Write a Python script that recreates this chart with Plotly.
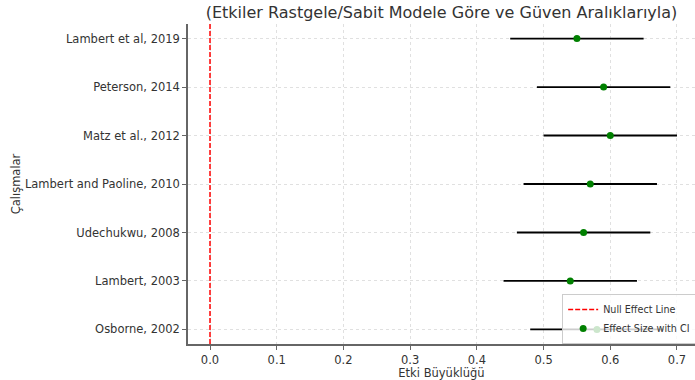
import plotly.graph_objects as go

studies = ["Lambert et al, 2019", "Peterson, 2014", "Matz et al., 2012",
           "Lambert and Paoline, 2010", "Udechukwu, 2008", "Lambert, 2003", "Osborne, 2002"]
effect = [0.55, 0.59, 0.60, 0.57, 0.56, 0.54, 0.58]
ci_low = [0.45, 0.49, 0.50, 0.47, 0.46, 0.44, 0.48]
ci_high = [0.65, 0.69, 0.70, 0.67, 0.66, 0.64, 0.68]
x_ticks = [0.0, 0.1, 0.2, 0.3, 0.4, 0.5, 0.6, 0.7]

# y positions: first study at top
ypos = list(range(len(studies) - 1, -1, -1))
err_plus = [h - e for h, e in zip(ci_high, effect)]
err_minus = [e - l for e, l in zip(effect, ci_low)]

fig = go.Figure()
fig.add_trace(go.Scatter(
    x=[0, 0], y=[-0.3, 6.3], mode="lines",
    line=dict(color="red", dash="5px,2px", width=1.5),
    name="Null Effect Line"))
fig.add_trace(go.Scatter(
    x=effect, y=ypos, mode="markers",
    marker=dict(color="green", size=7),
    error_x=dict(type="data", symmetric=False, array=err_plus, arrayminus=err_minus,
                 color="black", thickness=1.8, width=0),
    name="Effect Size with CI"))

fig.update_layout(
    width=695, height=380,
    margin=dict(l=188, r=0, t=24, b=36, autoexpand=False),
    paper_bgcolor="white", plot_bgcolor="white",
    font=dict(family="DejaVu Sans", size=11.5, color="#333333"),
    title=dict(text="(Etkiler Rastgele/Sabit Modele Göre ve Güven Aralıklarıyla)",
               x=0.5, xref="paper", xanchor="center", y=0.967, yanchor="middle",
               font=dict(size=16, color="#333333")),
    showlegend=True,
    legend=dict(x=0.738, y=0.0, xanchor="left", yanchor="bottom",
                bgcolor="rgba(255,255,255,0.8)", bordercolor="#cccccc", borderwidth=1,
                font=dict(size=9.6, color="#333333"), tracegroupgap=0,
                itemwidth=30),
)
fig.update_xaxes(
    range=[-0.033, 0.727], tickvals=x_ticks, ticktext=[f"{v:.1f}" for v in x_ticks],
    showgrid=True, gridcolor="#e0e0e0", griddash="dot", gridwidth=1,
    showline=True, linecolor="#666666", linewidth=1.5,
    ticks="outside", ticklen=4, tickcolor="#666666",
    zeroline=False, automargin=False,
    title=dict(text="Etki Büyüklüğü", font=dict(size=11.5), standoff=2))
fig.update_yaxes(
    range=[-0.3, 6.3], tickvals=ypos, ticktext=studies,
    showgrid=True, gridcolor="#e0e0e0", griddash="dot", gridwidth=1,
    showline=True, linecolor="#666666", linewidth=1.5,
    ticks="outside", ticklen=4, tickcolor="#666666",
    zeroline=False, automargin=False,
    title=dict(text="Çalışmalar", font=dict(size=11.5), standoff=2))

fig.write_html("out.html", config={"displayModeBar": False},
               post_script="document.body.style.margin='0px';")
